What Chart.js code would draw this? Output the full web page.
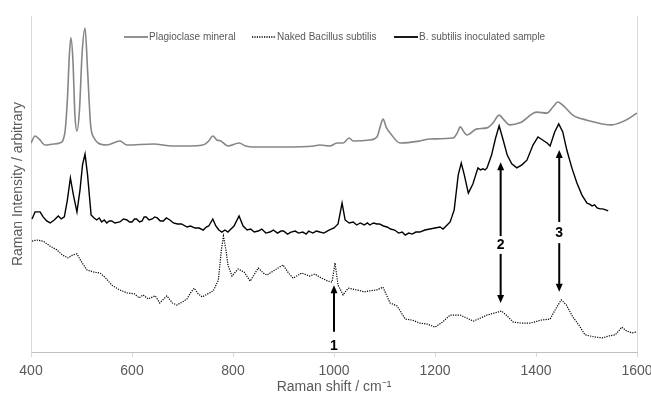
<!DOCTYPE html>
<html>
<head>
<meta charset="utf-8">
<script src="https://cdn.jsdelivr.net/npm/chart.js@4.4.1/dist/chart.umd.min.js"></script>
<style>
  html, body { margin: 0; padding: 0; background: #fff; }
</style>
</head>
<body>
<canvas id="myChart" width="651" height="397"></canvas>
<script>
// Raman shift (cm-1) and intensity (arbitrary, stacked offsets)
const plagShift = [400, 408, 416, 428, 445, 457, 467, 472, 476, 479, 483, 487, 491, 496, 501, 507, 512, 518, 525, 533, 550, 576, 590, 642, 680, 709, 740, 752, 760, 768, 776, 790, 812, 825, 840, 900, 960, 972, 992, 1006, 1018, 1030, 1038, 1071, 1085, 1092, 1097, 1104, 1111, 1131, 1170, 1190, 1236, 1244, 1250, 1256, 1263, 1283, 1303, 1315, 1327, 1337, 1348, 1368, 1402, 1421, 1435, 1443, 1455, 1473, 1501, 1550, 1575, 1600];
const plagInt = [62.2, 64.3, 63.4, 61.6, 61.9, 62.2, 65.2, 75.0, 88.4, 93.5, 86.9, 70.5, 65.8, 72.0, 88.4, 96.4, 83.9, 67.6, 63.7, 62.2, 61.6, 62.8, 61.6, 61.9, 61.3, 61.3, 61.6, 62.8, 64.3, 63.1, 62.8, 61.3, 62.2, 61.3, 61.0, 61.0, 61.3, 61.6, 61.3, 62.2, 62.2, 63.7, 62.8, 63.1, 64.0, 67.3, 69.3, 66.7, 65.2, 62.2, 62.8, 63.4, 63.7, 65.2, 67.0, 65.8, 64.6, 66.4, 66.7, 68.2, 70.5, 69.0, 67.6, 68.2, 71.4, 71.1, 73.2, 74.4, 73.2, 70.5, 69.0, 67.6, 68.8, 71.1];

const nakedShift = [402, 412, 424, 438, 451, 462, 473, 483, 491, 500, 511, 524, 537, 548, 560, 575, 590, 605, 614, 622, 632, 646, 655, 669, 680, 689, 700, 709, 716, 723, 731, 739, 750, 761, 771, 777, 781, 786, 790, 798, 810, 822, 834, 850, 860, 867, 883, 899, 910, 919, 936, 952, 962, 975, 988, 996, 1002, 1008, 1018, 1028, 1045, 1060, 1071, 1085, 1097, 1111, 1125, 1141, 1155, 1170, 1185, 1200, 1215, 1230, 1250, 1263, 1276, 1290, 1303, 1318, 1332, 1343, 1355, 1372, 1389, 1410, 1428, 1440, 1450, 1460, 1473, 1485, 1497, 1515, 1531, 1545, 1557, 1570, 1580, 1590, 1600];
const nakedInt = [33.0, 33.3, 33.0, 31.5, 30.4, 28.9, 28.0, 28.9, 29.2, 26.8, 24.4, 23.8, 23.5, 22.0, 19.9, 18.5, 17.6, 17.3, 16.1, 17.0, 15.8, 16.7, 14.6, 16.7, 14.6, 14.0, 14.9, 15.8, 17.6, 19.0, 17.3, 16.4, 17.3, 18.2, 21.4, 30.4, 34.5, 30.4, 25.9, 22.6, 24.7, 23.8, 21.1, 25.0, 23.5, 22.9, 24.4, 25.9, 23.5, 22.0, 23.5, 22.6, 23.2, 22.0, 21.1, 20.8, 26.5, 19.9, 17.0, 19.0, 18.5, 17.9, 18.2, 18.5, 19.3, 14.6, 13.7, 9.8, 9.5, 8.6, 8.3, 7.4, 8.9, 11.0, 11.0, 10.1, 9.2, 10.1, 11.0, 11.6, 12.2, 10.7, 8.9, 8.6, 8.6, 9.5, 9.8, 13.1, 15.5, 14.0, 10.4, 8.0, 5.1, 4.5, 4.2, 4.8, 5.1, 7.4, 6.2, 5.7, 6.0];

const inocShift = [402, 408, 418, 424, 431, 438, 446, 454, 460, 466, 472, 478, 484, 491, 497, 502, 507, 512, 519, 525, 530, 535, 540, 545, 550, 555, 560, 566, 576, 583, 590, 595, 600, 605, 609, 615, 620, 624, 628, 634, 640, 645, 650, 656, 662, 668, 675, 682, 690, 698, 709, 716, 725, 733, 741, 747, 752, 760, 766, 772, 778, 784, 790, 796, 802, 812, 820, 828, 835, 842, 850, 857, 865, 873, 880, 888, 895, 900, 908, 915, 923, 930, 938, 945, 950, 958, 965, 972, 980, 990, 1000, 1008, 1016, 1022, 1030, 1038, 1045, 1052, 1060, 1066, 1071, 1078, 1085, 1090, 1098, 1105, 1112, 1120, 1128, 1135, 1141, 1148, 1155, 1162, 1170, 1180, 1190, 1200, 1210, 1216, 1222, 1230, 1238, 1246, 1252, 1258, 1266, 1275, 1285, 1290, 1295, 1299, 1303, 1312, 1320, 1327, 1335, 1343, 1352, 1362, 1372, 1382, 1394, 1404, 1410, 1416, 1422, 1428, 1437, 1445, 1453, 1461, 1471, 1481, 1491, 1501, 1506, 1511, 1516, 1521, 1527, 1532, 1538, 1543];
const inocInt = [39.6, 41.7, 41.7, 40.2, 39.0, 38.4, 39.3, 40.5, 39.6, 40.2, 45.2, 51.8, 46.7, 41.7, 48.2, 55.7, 58.9, 52.7, 40.8, 39.9, 39.3, 39.9, 38.7, 39.3, 38.4, 39.0, 39.0, 38.4, 38.7, 39.6, 39.3, 38.7, 38.7, 39.6, 39.6, 38.7, 39.0, 40.2, 40.2, 39.3, 39.6, 40.2, 39.9, 39.0, 39.0, 39.9, 39.3, 38.4, 38.1, 38.1, 37.2, 37.5, 36.9, 36.9, 36.3, 37.2, 37.5, 39.6, 37.5, 36.3, 35.7, 36.3, 35.7, 36.6, 37.5, 40.5, 37.5, 36.3, 36.6, 35.7, 36.0, 36.6, 35.4, 35.7, 36.3, 35.4, 36.0, 36.0, 35.1, 35.7, 36.0, 35.4, 35.7, 35.1, 36.0, 35.4, 36.0, 35.7, 35.4, 36.3, 36.9, 38.1, 44.3, 39.3, 38.4, 38.7, 37.8, 38.4, 37.8, 38.4, 37.8, 38.4, 38.1, 38.1, 37.5, 37.2, 36.6, 36.3, 35.4, 35.7, 34.8, 35.4, 35.1, 35.7, 35.7, 36.3, 36.6, 36.9, 37.2, 36.6, 37.5, 38.7, 42.3, 52.7, 56.2, 52.7, 47.3, 50.0, 54.8, 54.2, 54.5, 54.2, 54.8, 58.6, 63.7, 67.3, 63.1, 58.6, 56.0, 54.8, 55.7, 57.1, 61.6, 64.0, 63.4, 62.8, 62.2, 61.3, 65.5, 67.9, 65.5, 60.1, 54.8, 50.3, 46.7, 44.3, 44.0, 43.5, 43.8, 42.9, 42.6, 42.6, 42.3, 42.0];

const xTicks = [400, 600, 800, 1000, 1200, 1400, 1600];

// band arrows: shift, tail intensity, tip intensity
const arrowShift = [1000, 1330, 1330, 1446, 1446];
const arrowFrom = [6.0, 34.5, 29.2, 38.7, 32.4];
const arrowTo = [19.9, 56.5, 14.6, 60.1, 17.9];
const bandLabels = ["1", "2", "3"];
const bandShift = [1000, 1330, 1446];
const bandInt = [1.6, 31.8, 35.4];

const toPts = (xs, ys) => xs.map((x, i) => ({ x: x, y: ys[i] }));

const grey = "#595959";
const fam = "'Liberation Sans', Arial, sans-serif";

const extras = {
  id: "extras",
  afterDatasetsDraw(chart) {
    const ctx = chart.ctx;
    const xs = chart.scales.x, ys = chart.scales.y;
    const a = chart.chartArea;
    ctx.save();
    // right frame line
    ctx.strokeStyle = "#d9d9d9";
    ctx.lineWidth = 1;
    ctx.beginPath();
    ctx.moveTo(Math.round(a.right) + 0.5, a.top);
    ctx.lineTo(Math.round(a.right) + 0.5, a.bottom);
    ctx.stroke();

    // arrows
    ctx.strokeStyle = "#000";
    ctx.fillStyle = "#000";
    ctx.lineWidth = 2;
    arrowShift.forEach((s, i) => {
      const x = xs.getPixelForValue(s);
      const y0 = ys.getPixelForValue(arrowFrom[i]);
      const y1 = ys.getPixelForValue(arrowTo[i]);
      const dir = y1 < y0 ? -1 : 1;
      ctx.beginPath();
      ctx.moveTo(x, y0);
      ctx.lineTo(x, y1 - dir * 7);
      ctx.stroke();
      ctx.beginPath();
      ctx.moveTo(x, y1);
      ctx.lineTo(x - 3.5, y1 - dir * 8);
      ctx.lineTo(x + 3.5, y1 - dir * 8);
      ctx.closePath();
      ctx.fill();
    });
    ctx.font = "bold 14px " + fam;
    ctx.textAlign = "center";
    ctx.textBaseline = "middle";
    bandLabels.forEach((t, i) => {
      ctx.fillText(t, xs.getPixelForValue(bandShift[i]), ys.getPixelForValue(bandInt[i]));
    });

    // legend inside the plot
    const items = [
      { text: "Plagioclase mineral", color: "#868686", dash: [], x: 124 },
      { text: "Naked Bacillus subtilis", color: "#000", dash: [1.2, 1.2], x: 252 },
      { text: "B. subtilis inoculated sample", color: "#000", dash: [], x: 394 }
    ];
    ctx.font = "10px " + fam;
    ctx.textAlign = "left";
    ctx.textBaseline = "middle";
    items.forEach((it) => {
      ctx.strokeStyle = it.color;
      ctx.lineWidth = it.dash.length ? 1.3 : 1.8;
      ctx.setLineDash(it.dash);
      ctx.beginPath();
      ctx.moveTo(it.x, 37);
      ctx.lineTo(it.x + 24, 37);
      ctx.stroke();
      ctx.setLineDash([]);
      ctx.fillStyle = grey;
      ctx.fillText(it.text, it.x + 25, 37);
    });
    ctx.restore();
  }
};

const ctx = document.getElementById("myChart").getContext("2d");
window.grafica = new Chart(ctx, {
  type: "line",
  data: {
    datasets: [
      {
        label: "Plagioclase mineral",
        data: toPts(plagShift, plagInt),
        borderColor: "#868686",
        borderWidth: 1.6,
        pointRadius: 0,
        cubicInterpolationMode: "monotone"
      },
      {
        label: "Naked Bacillus subtilis",
        data: toPts(nakedShift, nakedInt),
        borderColor: "#000",
        borderWidth: 1.2,
        borderDash: [1.2, 1.2],
        pointRadius: 0,
        tension: 0
      },
      {
        label: "B. subtilis inoculated sample",
        data: toPts(inocShift, inocInt),
        borderColor: "#000",
        borderWidth: 1.4,
        pointRadius: 0,
        tension: 0
      }
    ]
  },
  options: {
    responsive: false,
    animation: false,
    devicePixelRatio: 1,
    layout: { padding: { top: 16, right: 14, left: 0, bottom: 0 } },
    plugins: { legend: { display: false }, tooltip: { enabled: false } },
    scales: {
      x: {
        type: "linear",
        min: 400,
        max: 1600,
        afterBuildTicks: (s) => { s.ticks = xTicks.map((v) => ({ value: v })); },
        afterFit: (s) => { s.height = 45; s.paddingRight = 0; s.paddingLeft = 0; },
        grid: { display: true, drawOnChartArea: false, drawTicks: true, tickLength: 5, color: "#d9d9d9" },
        border: { display: true, color: "#bfbfbf", width: 1 },
        ticks: { color: grey, padding: 6, font: { family: fam, size: 14 }, maxRotation: 0, callback: (v) => String(v) },
        title: {
          display: true,
          text: "Raman shift / cm\u207B\u00B9",
          color: grey,
          font: { family: fam, size: 14 },
          padding: { top: 0, bottom: 1 }
        }
      },
      y: {
        min: 0,
        max: 100,
        afterFit: (s) => { s.width = 31; },
        grid: { display: false, drawTicks: false },
        border: { display: true, color: "#d9d9d9", width: 1 },
        ticks: { display: false },
        title: {
          display: true,
          text: "Raman Intensity / arbitrary",
          color: grey,
          font: { family: fam, size: 14 },
          padding: { top: 10, bottom: 0 }
        }
      }
    }
  },
  plugins: [extras]
});
</script>
</body>
</html>
